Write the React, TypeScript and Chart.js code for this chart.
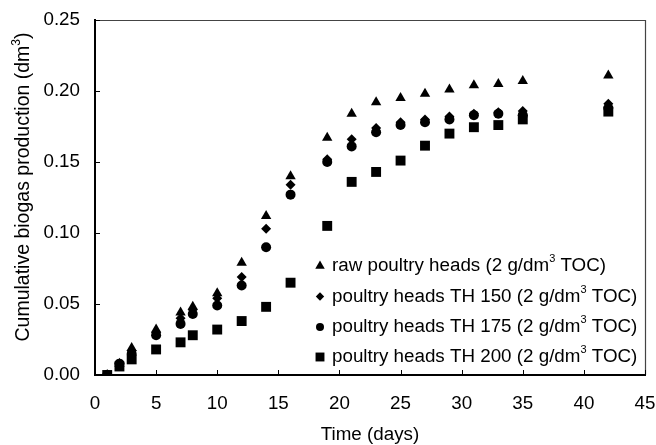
import React, { useEffect, useRef } from "react";
import { Chart, registerables } from "chart.js";

Chart.register(...registerables);

const days = [1, 2, 3, 5, 7, 8, 10, 12, 14, 16, 19, 21, 23, 25, 27, 29, 31, 33, 35, 42];
const rawHeads = [0, 0.008, 0.019, 0.032, 0.044, 0.048, 0.0575, 0.079, 0.112, 0.14, 0.167, 0.184, 0.192, 0.195, 0.198, 0.201, 0.204, 0.205, 0.207, 0.211];
const th150 = [0, 0.008, 0.017, 0.03, 0.04, 0.046, 0.054, 0.069, 0.103, 0.134, 0.152, 0.166, 0.174, 0.178, 0.18, 0.182, 0.184, 0.185, 0.186, 0.191];
const th175 = [0, 0.008, 0.015, 0.028, 0.036, 0.043, 0.049, 0.063, 0.09, 0.127, 0.15, 0.161, 0.171, 0.176, 0.178, 0.18, 0.183, 0.184, 0.183, 0.188];
const th200 = [0, 0.006, 0.011, 0.018, 0.023, 0.028, 0.032, 0.038, 0.048, 0.065, 0.105, 0.136, 0.143, 0.151, 0.1615, 0.17, 0.1745, 0.176, 0.18, 0.1855];

const seriesNames = [
  "raw poultry heads",
  "poultry heads TH 150",
  "poultry heads TH 175",
  "poultry heads TH 200",
];
const legendUnitPre = " (2 g/dm";
const legendUnitSup = "3";
const legendUnitPost = " TOC)";
const xTitle = "Time (days)";
const yTitlePre = "Cumulative biogas production (dm";
const yTitleSup = "3";
const yTitlePost = ")";

const FONT = '"Liberation Sans", Arial, sans-serif';
const FS = 18.8;

function drawMarker(ctx: CanvasRenderingContext2D, style: string, x: number, y: number, r: number) {
  ctx.beginPath();
  if (style === "triangle") {
    ctx.moveTo(x, y - r);
    ctx.lineTo(x + r * 0.866, y + r * 0.5);
    ctx.lineTo(x - r * 0.866, y + r * 0.5);
  } else if (style === "rectRot") {
    ctx.moveTo(x, y - r);
    ctx.lineTo(x + r, y);
    ctx.lineTo(x, y + r);
    ctx.lineTo(x - r, y);
  } else if (style === "circle") {
    ctx.arc(x, y, r, 0, Math.PI * 2);
  } else {
    const s = r * 0.7071;
    ctx.rect(x - s, y - s, 2 * s, 2 * s);
  }
  ctx.closePath();
  ctx.fill();
}

function drawSupText(ctx: CanvasRenderingContext2D, x: number, y: number, pre: string, sup: string, post: string, size: number) {
  ctx.font = `${size}px ${FONT}`;
  ctx.textBaseline = "middle";
  ctx.textAlign = "left";
  ctx.fillText(pre, x, y);
  let cx = x + ctx.measureText(pre).width;
  ctx.font = `${Math.round(size * 0.6)}px ${FONT}`;
  ctx.fillText(sup, cx, y - size * 0.36);
  cx += ctx.measureText(sup).width;
  ctx.font = `${size}px ${FONT}`;
  ctx.fillText(post, cx, y);
}

function supTextWidth(ctx: CanvasRenderingContext2D, pre: string, sup: string, post: string, size: number) {
  ctx.font = `${size}px ${FONT}`;
  let w = ctx.measureText(pre).width + ctx.measureText(post).width;
  ctx.font = `${Math.round(size * 0.6)}px ${FONT}`;
  w += ctx.measureText(sup).width;
  return w;
}

const styles = ["triangle", "rectRot", "circle", "rect"];
const radii = [6, 5, 5, 7];
const legendRadii = [5.5, 4.2, 4, 6.3];

const decorPlugin = {
  id: "decor",
  afterDraw(chart: any) {
    const ctx: CanvasRenderingContext2D = chart.ctx;
    const { left, right, top, bottom } = chart.chartArea;
    const xs = chart.scales.x;
    const ys = chart.scales.y;
    ctx.save();
    // top and right frame
    ctx.strokeStyle = "#444";
    ctx.lineWidth = 1.2;
    ctx.beginPath();
    ctx.moveTo(left, top + 0.5);
    ctx.lineTo(right + 0.5, top + 0.5);
    ctx.lineTo(right + 0.5, bottom);
    ctx.stroke();
    // inward ticks
    ctx.strokeStyle = "#000";
    ctx.lineWidth = 1;
    ctx.beginPath();
    xs.ticks.forEach((t: any) => {
      const px = Math.round(xs.getPixelForValue(t.value)) + 0.5;
      ctx.moveTo(px, bottom);
      ctx.lineTo(px, bottom - 5);
    });
    ys.ticks.forEach((t: any) => {
      const py = Math.round(ys.getPixelForValue(t.value)) + 0.5;
      ctx.moveTo(left, py);
      ctx.lineTo(left + 5, py);
    });
    ctx.stroke();
    // legend
    ctx.fillStyle = "#000";
    const rows = [266, 296.5, 327, 357];
    seriesNames.forEach((name, i) => {
      drawMarker(ctx, styles[i], 320, rows[i], legendRadii[i]);
      drawSupText(ctx, 332, rows[i], name + legendUnitPre, legendUnitSup, legendUnitPost, FS);
    });
    // x title
    ctx.font = `${FS}px ${FONT}`;
    ctx.textAlign = "center";
    ctx.textBaseline = "middle";
    ctx.fillText(xTitle, (left + right) / 2, 435);
    // y title
    ctx.translate(24, 187);
    ctx.rotate(-Math.PI / 2);
    const w = supTextWidth(ctx, yTitlePre, yTitleSup, yTitlePost, 19.5);
    drawSupText(ctx, -w / 2, 0, yTitlePre, yTitleSup, yTitlePost, 19.5);
    ctx.restore();
  },
};

export default function App() {
  const ref = useRef<HTMLCanvasElement | null>(null);
  useEffect(() => {
    if (!ref.current) return;
    const mk = (data: number[]) => days.map((d, i) => ({ x: d, y: data[i] }));
    const all = [rawHeads, th150, th175, th200];
    const chart = new Chart(ref.current, {
      type: "scatter",
      data: {
        datasets: all.map((d, i) => ({
          label: seriesNames[i],
          data: mk(d),
          pointStyle: styles[i] as any,
          pointRadius: radii[i],
          pointBackgroundColor: "#000",
          pointBorderColor: "#000",
          pointBorderWidth: 0,
          showLine: false,
        })),
      },
      options: {
        animation: false,
        responsive: false,
        layout: { padding: { top: 20, right: 11, left: 0, bottom: 0 } },
        plugins: { legend: { display: false }, tooltip: { enabled: false }, title: { display: false } },
        scales: {
          x: {
            type: "linear",
            min: 0,
            max: 45,
            afterFit: (s: any) => { s.height = 70; s.paddingLeft = 0; s.paddingRight = 0; },
            ticks: { stepSize: 5, color: "#000", font: { family: FONT, size: FS }, padding: 18, maxRotation: 0 },
            grid: { display: false, drawTicks: false },
            border: { display: true, color: "#000", width: 2 },
          },
          y: {
            min: 0,
            max: 0.25,
            afterFit: (s: any) => { s.width = 95; s.paddingTop = 0; s.paddingBottom = 0; },
            ticks: {
              stepSize: 0.05,
              color: "#000",
              font: { family: FONT, size: FS },
              padding: 15,
              callback: (v: any) => Number(v).toFixed(2),
            },
            grid: { display: false, drawTicks: false },
            border: { display: true, color: "#000", width: 2 },
          },
        },
      },
      plugins: [decorPlugin],
    });
    return () => chart.destroy();
  }, []);
  return (
    <div style={{ position: "fixed", left: 0, top: 0, width: 656, height: 445, background: "#fff" }}>
      <canvas ref={ref} width={656} height={445} style={{ width: 656, height: 445, display: "block" }} />
    </div>
  );
}
